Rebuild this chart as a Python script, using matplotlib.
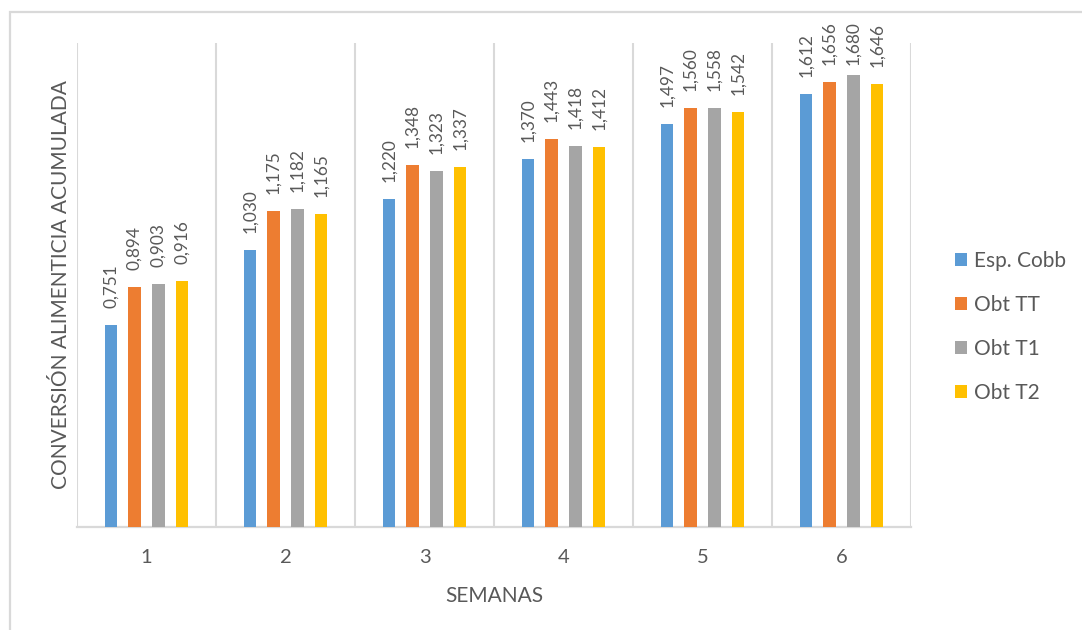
import matplotlib
matplotlib.use("Agg")
import matplotlib.pyplot as plt
from matplotlib.patches import Rectangle
import numpy as np

plt.rcParams['font.family'] = ['Lato', 'DejaVu Sans']

semanas = ['1', '2', '3', '4', '5', '6']
series = ['Esp. Cobb', 'Obt TT', 'Obt T1', 'Obt T2']
esp_cobb = [0.751, 1.030, 1.220, 1.370, 1.497, 1.612]
obt_tt = [0.894, 1.175, 1.348, 1.443, 1.560, 1.656]
obt_t1 = [0.903, 1.182, 1.323, 1.418, 1.558, 1.680]
obt_t2 = [0.916, 1.165, 1.337, 1.412, 1.542, 1.646]

colores = ['#5B9BD5', '#ED7D31', '#A5A5A5', '#FFC000']
gris_txt = '#595959'
gris_linea = '#D9D9D9'

fig = plt.figure(figsize=(10.82, 6.30), dpi=100)
W, H = 1082.0, 630.0
ax = fig.add_axes([77 / W, 1 - 527 / H, (911 - 77) / W, (527 - 43) / H])

# marco exterior del grafico (se sale por la derecha y por abajo)
fig.add_artist(Rectangle((10 / W, -0.1), 1.2, 1 - 12 / H + 0.1,
                         transform=fig.transFigure, fill=False,
                         edgecolor=gris_linea, lw=1.6))

x = np.arange(1, len(semanas) + 1)
offsets = [-0.255, -0.086, 0.086, 0.255]
ancho = 0.092
datos = [esp_cobb, obt_tt, obt_t1, obt_t2]

handles = []
etiquetas = []
for vals, off, c, nom in zip(datos, offsets, colores, series):
    b = ax.bar(x + off, vals, width=ancho, color=c, label=nom, zorder=3)
    handles.append(b)
    for xi, v in zip(x + off, vals):
        t = ax.text(xi, v, ('%.3f' % v).replace('.', ','),
                    rotation=90, ha='center', va='bottom', clip_on=False,
                    fontsize=12.8, color=gris_txt)
        etiquetas.append((t, xi, v))

ax.set_xlim(0.5, 6.5)
ax.set_ylim(0, 1.8)
ax.set_xticks(x)
ax.set_xticklabels(semanas, fontsize=14.5, color=gris_txt)
ax.set_xticks(np.arange(0.5, 7, 1), minor=True)
ax.tick_params(axis='x', which='both', length=0, pad=16)
ax.set_yticks([])
ax.grid(True, which='minor', axis='x', color=gris_linea, lw=1.5, zorder=0)
for s in ['top', 'right', 'left']:
    ax.spines[s].set_visible(False)
ax.spines['bottom'].set_color(gris_linea)
ax.spines['bottom'].set_linewidth(1.6)

ax.set_xlabel('SEMANAS', fontsize=15, color=gris_txt, labelpad=14)
ax.set_ylabel('CONVERSIÓN ALIMENTICIA ACUMULADA', fontsize=15,
              color=gris_txt, labelpad=4)

leg = fig.legend(handles=handles, labels=series, loc='center left',
                 bbox_to_anchor=(936 / W, 1 - 327 / H), frameon=False,
                 fontsize=15, handlelength=0.6, handleheight=0.6,
                 handletextpad=0.3, labelspacing=1.15)
for t in leg.get_texts():
    t.set_color(gris_txt)

# ajuste de las etiquetas en pixeles: largo ~44 px, 17 px sobre la barra,
# sin pasar de 21 px bajo el borde superior de la imagen
largo_px = 44.0
sep_px = 17.0
tope_px = H - 21.0

fig.canvas.draw()
r = fig.canvas.get_renderer()
h0 = etiquetas[0][0].get_window_extent(r).height
fs = 12.8 * largo_px / h0
for t, xi, v in etiquetas:
    t.set_fontsize(fs)
fig.canvas.draw()
inv = ax.transData.inverted()
for t, xi, v in etiquetas:
    h = t.get_window_extent(r).height
    yb = ax.transData.transform((xi, v))[1]
    base = min(yb + sep_px, tope_px - h)
    t.set_y(inv.transform((0, base))[1])

fig.savefig('out.png', dpi=100)
